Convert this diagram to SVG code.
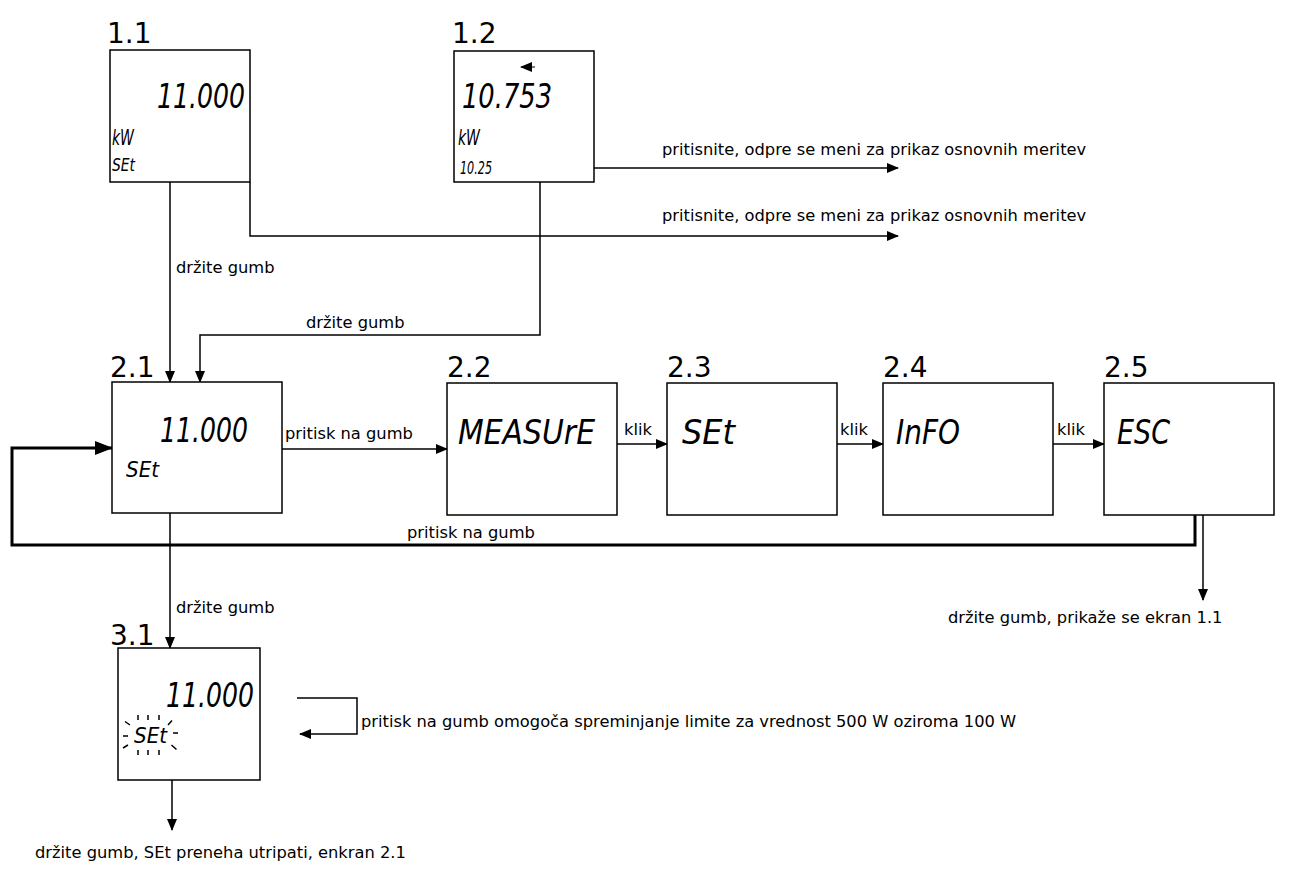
<svg xmlns="http://www.w3.org/2000/svg" width="1297" height="889" viewBox="0 0 1297 889">
<style>
.box{fill:#fff;stroke:#000;stroke-width:1.5}
.num{font-family:"DejaVu Sans",sans-serif;font-size:28px;fill:#000}
.lbl{font-family:"DejaVu Sans",sans-serif;font-size:16.3px;fill:#000}
.seg{font-family:"DejaVu Sans",sans-serif;font-style:italic;font-weight:200;fill:#000}
.ln{fill:none;stroke:#000;stroke-width:1.5}
.thick{fill:none;stroke:#000;stroke-width:3}
.tick{stroke:#000;stroke-width:1.5;fill:none}
</style>
<defs>
<marker id="ah" markerWidth="12" markerHeight="10" refX="11" refY="5" orient="auto" markerUnits="userSpaceOnUse">
<path d="M0,0 L12,5 L0,10 Z" fill="#000"/>
</marker>
<marker id="ahb" markerWidth="18" markerHeight="14" refX="17" refY="7" orient="auto" markerUnits="userSpaceOnUse">
<path d="M0,0 L18,7 L0,14 Z" fill="#000"/>
</marker>
</defs>

<g id="connectors">
<path class="ln" d="M170,182 V382" marker-end="url(#ah)"/>
<text class="lbl" x="176" y="273">držite gumb</text>
<path class="ln" d="M250,182 V236 H898" marker-end="url(#ah)"/>
<text class="lbl" x="662" y="221">pritisnite, odpre se meni za prikaz osnovnih meritev</text>
<path class="ln" d="M594,168 H898" marker-end="url(#ah)"/>
<text class="lbl" x="662" y="155">pritisnite, odpre se meni za prikaz osnovnih meritev</text>
<path class="ln" d="M540,182 V335 H200 V382" marker-end="url(#ah)"/>
<text class="lbl" x="306" y="328">držite gumb</text>
<path class="ln" d="M282,449 H447" marker-end="url(#ah)"/>
<text class="lbl" x="285" y="439">pritisk na gumb</text>
<path class="ln" d="M617,444 H667" marker-end="url(#ah)"/>
<text class="lbl" x="624" y="435">klik</text>
<path class="ln" d="M837,444 H883" marker-end="url(#ah)"/>
<text class="lbl" x="840" y="435">klik</text>
<path class="ln" d="M1053,444 H1104" marker-end="url(#ah)"/>
<text class="lbl" x="1057" y="435">klik</text>
<path class="thick" d="M1195,515 V545 H12 V448 H112" marker-end="url(#ahb)"/>
<text class="lbl" x="407" y="538">pritisk na gumb</text>
<path class="ln" d="M1203,515 V600" marker-end="url(#ah)"/>
<text class="lbl" x="948" y="623">držite gumb, prikaže se ekran 1.1</text>
<path class="ln" d="M170,513 V648" marker-end="url(#ah)"/>
<text class="lbl" x="176" y="613">držite gumb</text>
<path class="ln" d="M297,698 H357 V734 H300" marker-end="url(#ah)"/>
<text class="lbl" x="361" y="727">pritisk na gumb omogoča spreminjanje limite za vrednost 500 W oziroma 100 W</text>
<path class="ln" d="M172,780 V830" marker-end="url(#ah)"/>
<text class="lbl" x="35" y="858">držite gumb, SEt preneha utripati, enkran 2.1</text>
</g>

<g id="n11">
<text class="num" x="107" y="43">1.1</text>
<rect class="box" x="110" y="50" width="140" height="132"/>
<text class="seg" x="157" y="108" font-size="34" textLength="88" lengthAdjust="spacingAndGlyphs">11.000</text>
<text class="seg" x="112" y="145" font-size="22" textLength="22" lengthAdjust="spacingAndGlyphs">kW</text>
<text class="seg" x="112" y="171" font-size="18" textLength="23" lengthAdjust="spacingAndGlyphs">SEt</text>
</g>

<g id="n12">
<text class="num" x="452" y="43">1.2</text>
<rect class="box" x="454" y="51" width="140" height="131"/>
<path class="ln" d="M535,67 H521" marker-end="url(#ah)" style="stroke-width:1"/>
<text class="seg" x="462" y="108" font-size="34" textLength="90" lengthAdjust="spacingAndGlyphs">10.753</text>
<text class="seg" x="458" y="145" font-size="22" textLength="22" lengthAdjust="spacingAndGlyphs">kW</text>
<text class="seg" x="460" y="174" font-size="18" textLength="32" lengthAdjust="spacingAndGlyphs">10.25</text>
</g>

<g id="n21">
<text class="num" x="110" y="377">2.1</text>
<rect class="box" x="112" y="382" width="170" height="131"/>
<text class="seg" x="160" y="442" font-size="34" textLength="88" lengthAdjust="spacingAndGlyphs">11.000</text>
<text class="seg" x="126" y="477" font-size="22" textLength="33" lengthAdjust="spacingAndGlyphs">SEt</text>
</g>

<g id="n22">
<text class="num" x="447" y="377">2.2</text>
<rect class="box" x="447" y="383" width="170" height="132"/>
<text class="seg" x="458" y="444" font-size="34" textLength="137" lengthAdjust="spacingAndGlyphs">MEASUrE</text>
</g>

<g id="n23">
<text class="num" x="667" y="377">2.3</text>
<rect class="box" x="667" y="383" width="170" height="132"/>
<text class="seg" x="682" y="444" font-size="34" textLength="53" lengthAdjust="spacingAndGlyphs">SEt</text>
</g>

<g id="n24">
<text class="num" x="883" y="377">2.4</text>
<rect class="box" x="883" y="383" width="170" height="132"/>
<text class="seg" x="896" y="444" font-size="34" textLength="64" lengthAdjust="spacingAndGlyphs">InFO</text>
</g>

<g id="n25">
<text class="num" x="1104" y="377">2.5</text>
<rect class="box" x="1104" y="383" width="170" height="132"/>
<text class="seg" x="1117" y="444" font-size="34" textLength="53" lengthAdjust="spacingAndGlyphs">ESC</text>
</g>

<g id="n31">
<text class="num" x="110" y="645">3.1</text>
<rect class="box" x="118" y="648" width="142" height="132"/>
<text class="seg" x="166" y="707" font-size="34" textLength="88" lengthAdjust="spacingAndGlyphs">11.000</text>
<text class="seg" x="134" y="743" font-size="22" textLength="33" lengthAdjust="spacingAndGlyphs">SEt</text>
<path class="tick" d="M138,715V720 M148,715V720 M159,715V720 M138,750V755 M148,750V755 M159,750V755 M125,721.5L130,725 M168,725L172,720.5 M123,736H128 M173,733H178 M123,748L128,745 M171.5,745L176.5,749.5"/>
</g>
</svg>
